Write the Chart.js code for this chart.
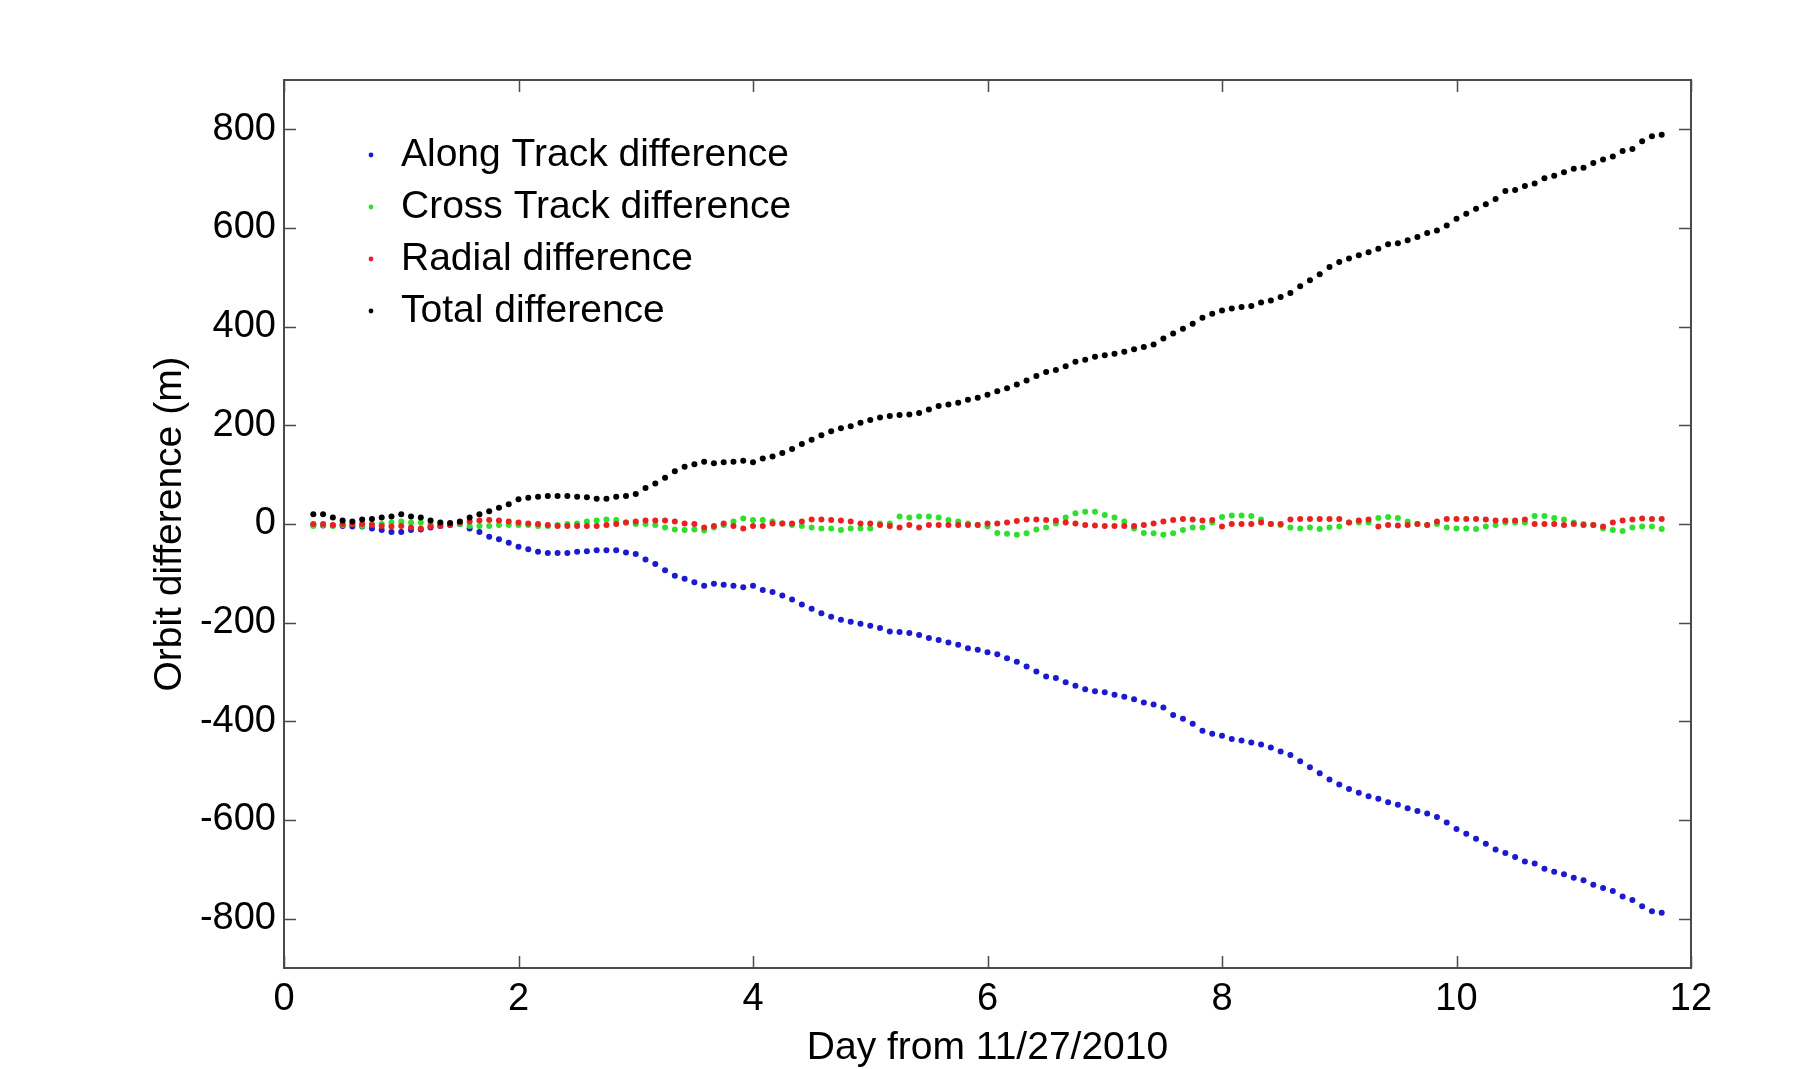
<!DOCTYPE html>
<html><head><meta charset="utf-8">
<script src="https://cdn.jsdelivr.net/npm/chart.js@4.4.1/dist/chart.umd.min.js"></script>
<style>html,body{margin:0;padding:0;background:#fff;}#wrap{width:1796px;height:1069px;}</style>
</head><body><div id="wrap"><canvas id="c" width="1796" height="1069"></canvas></div>
<script>
// sampling: first sample at day 0.25, one sample every 2 hours
const startDay = 0.25;
const stepDays = 2 / 24;

const seriesLabels = ['Along Track difference', 'Cross Track difference', 'Radial difference', 'Total difference'];
const xTickValues = [0, 2, 4, 6, 8, 10, 12];
const yTickValues = [-800, -600, -400, -200, 0, 200, 400, 600, 800];
const xTitle = 'Day from 11/27/2010';
const yTitle = 'Orbit difference (m)';

const alongTrack = [
 -2,-3,-3,-4,-5,-5,-9,-12,-16,-16, -12,-11,-7,-4,-2,0,-9,-16,-26,-31,
 -38,-46,-51,-56,-59,-59,-59,-56,-55,-53, -53,-53,-58,-61,-72,-81,-94,-105,-111,-118,
 -125,-121,-123,-125,-128,-125,-134,
 -138,-145,-153,-163,-172,-181,-188,
 -194,-198,-202,-206,-211,-218,-219,-221,-225,-231, -235,-240,-245,-252,-255,-260,-264,-272,-279,-289,
 -299,-309,-312,-321,-328,-335,-339,-341,-346,-350, -355,-362,-366,-372,-387,-395,-405,-419,
 -425,-429,-436,-439,-443,-447,-453,-461,-468,-481, -493,-505,-518,-528,-537,-545,-552,-557,-564,-569,
 -576,-582,-587,-594,-605,-618,-628,-638,-648,-660, -667,-675,-684,-688,-699,-705,-710,-717,-722,-731,
 -738,-744,-755,-762,-775,-785,-788
];
const crossTrack = [
 -4,-2,-4,-2,0,-4,0,0,3,5, 3,3,0,0,0,0,-4,-4,-4,-2,
 -2,-2,-2,-4,-4,-2,0,1,5,7, 9,8,3,0,0,-2,-7,-11,-12,-11,
 -13,-7,-2,5,11,8,8,5,1,-2, -4,-7,-9,-9,-12,-9,-9,-9,1,1,
 15,13,15,15,13,8,5,1,-2,-5, -18,-20,-22,-19,-11,-7,1,13,22,25,
 25,18,13,5,-9,-18,-19,-22,-19,-12, -7,
 -7,3,14,17,17,16,9,0,-2,-7, -9,-7,-10,-7,-5,3,3,3,12,14,
 12,5,0,-2,0,-7,-9,-9,-10,-5, -2,3,3,3,16,16,12,9,3,0,
 -2,-9,-12,-14,-7,-5,-5,-10
];
const radial = [
 0,0,-2,0,0,0,-2,-4,-5,-4, -7,-9,-5,-4,-2,3,5,7,8,7,
 5,3,1,0,-2,-4,-4,-4,-4,-4, -2,0,3,5,7,7,7,5,1,0,
 -7,-4,1,-4,-9,-4,-4,1,1,1, 5,9,9,8,7,5,1,1,-2,-4,
 -7,-2,-7,-2,-2,-2,-2,-2,-2,1, 1,3,6,9,9,8,7,3,1,-2,
 -3,-4,-4,-4,-4,-2,1,5,8,10, 9,
 7,8,-5,0,0,0,3,0,0,9, 10,10,10,10,10,3,7,9,-5,-2,
 -3,-2,0,-2,5,10,10,10,10,9, 7,7,7,9,0,0,0,-2,0,-2,
 -2,-5,3,7,9,11,10,10
];
const total = [
 20,20,13,7,5,9,10,13,15,20, 15,13,7,3,2,5,13,20,26,33,
 40,50,53,55,57,57,57,55,54,51, 51,55,57,61,73,82,94,107,116,121,
 126,123,125,126,128,125,133,
 137,144,152,162,171,180,188,
 194,198,205,211,216,219,221,222,225,232, 239,242,246,252,256,262,269,275,283,291,
 300,308,312,320,329,333,339,342,345,349, 354,359,364,376,386,396,406,418,
 426,433,437,440,442,449,453,460,468,482, 494,506,521,531,538,545,551,558,567,569,
 575,582,590,595,605,619,629,639,648,659, 675,677,685,690,701,706,713,720,722,732,
 739,745,756,760,776,786,789
];

const days = alongTrack.map((_, i) => startDay + i * stepDays);
const toPts = arr => arr.map((v, i) => ({x: days[i], y: v}));

const FONT = '"Liberation Sans", Arial, Helvetica, sans-serif';
const colors = ['#1a1ad0', '#2ee02e', '#e82222', '#000000'];
const seriesData = [alongTrack, crossTrack, radial, total];
const orders = [4, 3, 2, 1];

const framePlugin = {
  id: 'frame',
  afterDraw(chart) {
    const {ctx, chartArea: a, scales: {x, y}} = chart;
    ctx.save();
    ctx.strokeStyle = '#4a4a4a';
    ctx.lineWidth = 2;
    ctx.strokeRect(a.left, a.top, a.right - a.left, a.bottom - a.top);
    const tl = 12;
    ctx.beginPath();
    xTickValues.forEach(v => {
      const px = Math.round(x.getPixelForValue(v)) + 0.5;
      ctx.moveTo(px, a.bottom); ctx.lineTo(px, a.bottom - tl);
      ctx.moveTo(px, a.top); ctx.lineTo(px, a.top + tl);
    });
    yTickValues.forEach(v => {
      const py = Math.round(y.getPixelForValue(v)) + 0.5;
      ctx.moveTo(a.left, py); ctx.lineTo(a.left + tl, py);
      ctx.moveTo(a.right, py); ctx.lineTo(a.right - tl, py);
    });
    ctx.lineWidth = 1.5;
    ctx.stroke();
    // legend inside the axes
    ctx.font = '39px ' + FONT;
    ctx.textBaseline = 'middle';
    ctx.textAlign = 'left';
    chart.data.datasets.forEach((ds, i) => {
      const yy = a.top + 75 + i * 52;
      ctx.fillStyle = ds.backgroundColor;
      ctx.beginPath();
      ctx.arc(a.left + 87, yy, 2.4, 0, Math.PI * 2);
      ctx.fill();
      ctx.fillStyle = '#000';
      ctx.fillText(ds.label, a.left + 117, yy);
    });
    ctx.restore();
  }
};

new Chart(document.getElementById('c'), {
  type: 'scatter',
  data: {
    datasets: seriesData.map((arr, i) => ({
      label: seriesLabels[i],
      data: toPts(arr),
      backgroundColor: colors[i],
      borderColor: colors[i],
      pointRadius: 3,
      pointBorderWidth: 0,
      showLine: false,
      order: orders[i]
    }))
  },
  options: {
    responsive: false,
    animation: false,
    devicePixelRatio: 1,
    layout: {padding: {left: 140, right: 105, top: 80, bottom: 0}},
    plugins: {legend: {display: false}, tooltip: {enabled: false}},
    scales: {
      x: {
        type: 'linear', position: 'bottom', min: 0, max: 12,
        grid: {display: false, drawTicks: false},
        border: {display: false},
        ticks: {font: {family: FONT, size: 38}, color: '#000', padding: 9, maxRotation: 0},
        afterBuildTicks: s => { s.ticks = xTickValues.map(v => ({value: v})); },
        afterFit: s => { s.height = 101; },
        title: {display: true, text: xTitle, color: '#000', font: {family: FONT, size: 39, lineHeight: 1.05}, padding: {top: 0, bottom: 0}}
      },
      y: {
        type: 'linear', min: -900, max: 900,
        grid: {display: false, drawTicks: false},
        border: {display: false},
        ticks: {font: {family: FONT, size: 38}, color: '#000', padding: 8},
        afterBuildTicks: s => { s.ticks = yTickValues.map(v => ({value: v})); },
        afterFit: s => { s.width = 144; },
        title: {display: true, text: yTitle, color: '#000', font: {family: FONT, size: 39}, padding: {top: 7, bottom: 0}}
      }
    }
  },
  plugins: [framePlugin]
});
</script></body></html>
